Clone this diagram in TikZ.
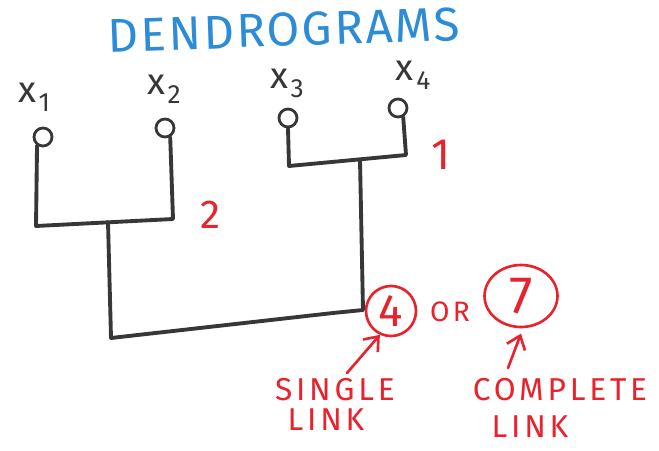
\documentclass[tikz,border=0pt]{standalone}
\usepackage{fontspec}
\setmainfont{Fira Sans}
\newfontfamily\hand[LetterSpace=12]{Fira Sans}
\newfontfamily\titlehand[LetterSpace=5]{Fira Sans}
\usetikzlibrary{arrows.meta,shapes.geometric}
\definecolor{penblue}{RGB}{45,140,215}
\definecolor{penred}{RGB}{232,35,45}
\definecolor{pencil}{RGB}{55,55,55}
\newcommand{\xsub}[1]{x\kern1.5pt\raisebox{-0.45ex}{\fontsize{15}{15}\selectfont #1}}
\tikzset{
  leaf/.style={circle,draw=pencil,line width=1.6pt,minimum size=0.36cm,inner sep=0pt},
  dline/.style={draw=pencil,line width=2.2pt,line cap=round,line join=round},
  xlab/.style={text=pencil,font=\fontsize{21}{23}\selectfont,inner sep=0pt,text height=1.05ex,text depth=0.5ex},
  redtxt/.style={text=penred,font=\hand\fontsize{#1}{#1}\selectfont},
  ring/.style={draw=penred,line width=1.5pt,inner sep=0pt},
  redarrow/.style={draw=penred,line width=1.5pt,line cap=round,-{Straight Barb[length=7pt,width=11pt]}}
}
\begin{document}
\begin{tikzpicture}[x=0.02cm,y=-0.02cm]
\useasboundingbox (0,0) rectangle (659,450);
% title
\node[text=penblue,font=\titlehand\fontsize{27}{28}\selectfont,rotate=2,inner sep=0pt] (title) at (284,30) {DENDROGRAMS};
% leaf labels
\node[xlab] (l1) at (34,100) {\xsub{1}};
\node[xlab] (l2) at (164,92) {\xsub{2}};
\node[xlab] (l3) at (287,86) {\xsub{3}};
\node[xlab] (l4) at (413,78) {\xsub{4}};
% leaves
\node[leaf] (c1) at (43,137) {};
\node[leaf] (c2) at (165,128) {};
\node[leaf] (c3) at (288,118) {};
\node[leaf] (c4) at (398,108) {};
% junction coordinates
\coordinate (b1) at (36,226);
\coordinate (b2) at (173,219);
\coordinate (m1) at (108,222);
\coordinate (d1) at (111,338);
\coordinate (d2) at (333,313);
\coordinate (d3) at (363,310);
\coordinate (e1) at (289,166);
\coordinate (e2) at (406,155);
\coordinate (m2) at (360,160);
% dendrogram lines
\draw[dline] (c1.235) -- (b1) -- (b2) -- (c2.300);
\draw[dline] (c3.south) -- (e1) -- (e2) -- (c4.300);
\draw[dline] (m1) -- (d1) -- (d2) -- (d3) -- (m2);
% heights
\node[redtxt=25] (h1) at (441,155) {1};
\node[redtxt=23] (h2) at (210,215) {2};
% merge options
\node[ring,circle,minimum size=1.0cm,redtxt=26] (n4) at (391,311) {4};
\node[redtxt=16] (or) at (450,312) {OR};
\node[ring,ellipse,minimum width=1.46cm,minimum height=1.24cm,redtxt=30] (n7) at (521,296) {7};
% annotations
\node[redtxt=18] (single) at (335,390) {SINGLE};
\node[redtxt=18] (link1) at (326,420) {LINK};
\node[redtxt=18] (complete) at (560,390) {COMPLETE};
\node[redtxt=18] (link2) at (530,427) {LINK};
\coordinate (t1) at (347,373);
\coordinate (t2) at (508,368);
\draw[redarrow] (t1) -- (n4.245);
\draw[redarrow] (t2) -- ([yshift=-3pt]n7.south);
\end{tikzpicture}
\end{document}
